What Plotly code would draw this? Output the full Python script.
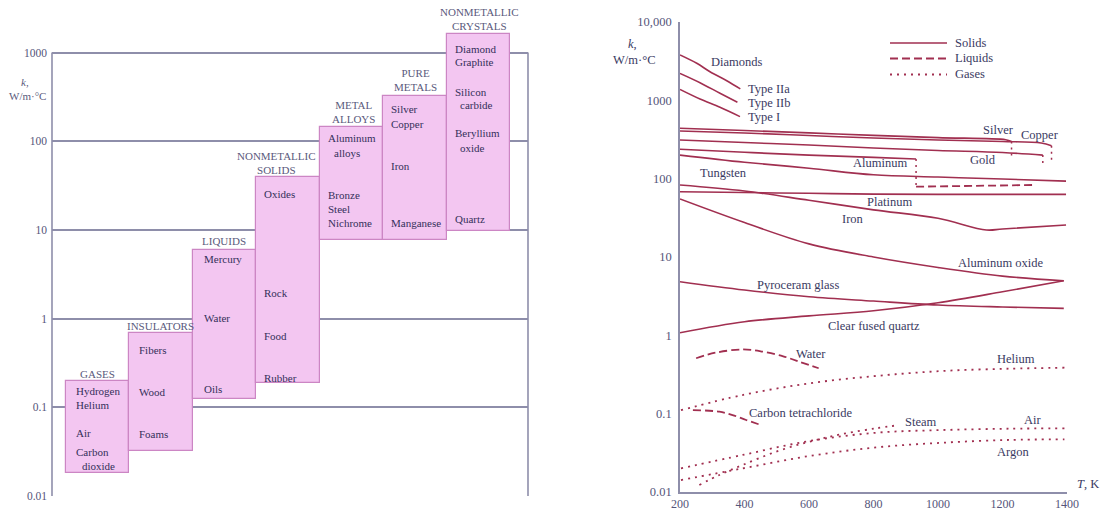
import plotly.graph_objects as go

# ---------------- Left chart: ranges of thermal conductivity ----------------
groups = ["GASES", "INSULATORS", "LIQUIDS", "NONMETALLIC<br>SOLIDS",
          "METAL<br>ALLOYS", "PURE<br>METALS", "NONMETALLIC<br>CRYSTALS"]
k_low = [0.018, 0.032, 0.123, 0.186, 7.7, 7.7, 9.8]
k_high = [0.2, 0.68, 6.0, 39, 143, 323, 1600]
left_ticks = [0.01, 0.1, 1, 10, 100, 1000]
left_ticktext = ["0.01", "0.1", "1", "10", "100", "1000"]

box_items = [
    ["Hydrogen", "Helium", "Air", "Carbon", "dioxide"],
    ["Fibers", "Wood", "Foams"],
    ["Mercury", "Water", "Oils"],
    ["Oxides", "Rock", "Food", "Rubber"],
    ["Aluminum", "alloys", "Bronze", "Steel", "Nichrome"],
    ["Silver", "Copper", "Iron", "Manganese"],
    ["Diamond", "Graphite", "Silicon", "carbide", "Beryllium", "oxide", "Quartz"],
]

# ---------------- Right chart: k vs temperature ----------------
diamond2a_T = [200, 252, 293, 345, 387]
diamond2a_k = [3800, 2970, 2320, 1780, 1400]
diamond2b_T = [200, 262, 324, 378]
diamond2b_k = [2210, 1680, 1230, 945]
diamond1_T = [200, 262, 324, 386]
diamond1_k = [1380, 1040, 815, 620]
silver_T = [200, 400, 600, 800, 1000, 1210, 1228]
silver_k = [440, 412, 384, 357, 334, 314, 298]
copper_T = [200, 400, 600, 800, 1000, 1200, 1320, 1352]
copper_k = [406, 383, 356, 330, 312, 298, 285, 264]
gold_T = [200, 400, 600, 800, 1000, 1200, 1325]
gold_k = [312, 289, 269, 246, 229, 216, 200]
aluminum_T = [200, 400, 600, 800, 932]
aluminum_k = [237, 217, 200, 187, 178]
tungsten_T = [200, 400, 600, 800, 1000, 1200, 1397]
tungsten_k = [200, 162, 136, 112, 105, 99, 93]
platinum_T = [200, 400, 600, 800, 1000, 1200, 1397]
platinum_k = [68, 66.5, 65, 63.5, 63, 63, 63]
iron_T = [200, 400, 600, 800, 1000, 1150, 1200, 1397]
iron_k = [83, 69.6, 53, 40, 31.2, 22.1, 22.8, 25.6]
al2o3_T = [200, 400, 600, 800, 1000, 1200, 1390]
al2o3_k = [55, 27.5, 14.7, 10, 7.35, 5.7, 4.98]
pyroceram_T = [200, 400, 600, 800, 1000, 1200, 1390]
pyroceram_k = [4.84, 3.79, 3.11, 2.74, 2.44, 2.30, 2.21]
quartz_T = [200, 400, 600, 800, 1000, 1200, 1390]
quartz_k = [1.08, 1.49, 1.77, 2.06, 2.61, 3.6, 4.98]

water_T = [250, 310, 395, 455, 520, 570, 630]
water_k = [0.51, 0.60, 0.66, 0.62, 0.54, 0.46, 0.38]
ccl4_T = [240, 322, 363, 405, 451]
ccl4_k = [0.111, 0.106, 0.096, 0.083, 0.0716]
liquid_al_T = [932, 1294]
liquid_al_k = [79, 83]

helium_T = [203, 394, 601, 808, 1015, 1221, 1392]
helium_k = [0.111, 0.173, 0.244, 0.303, 0.351, 0.375, 0.386]
air_T = [203, 394, 601, 808, 1015, 1221, 1392]
air_k = [0.020, 0.0297, 0.0448, 0.0571, 0.0618, 0.0643, 0.065]
argon_T = [203, 394, 601, 808, 1015, 1221, 1392]
argon_k = [0.0142, 0.0200, 0.0288, 0.0371, 0.0426, 0.0462, 0.047]
steam_T = [260, 322, 394, 498, 601, 704, 808, 880]
steam_k = [0.0123, 0.0165, 0.0221, 0.0327, 0.0439, 0.055, 0.065, 0.0716]

# melting transitions (solid -> liquid), drawn dotted
melt_T = [[932, 932], [1228, 1228], [1352, 1352], [1325, 1325]]
melt_k = [[178, 79], [298, 182], [264, 173], [200, 149]]

right_ticks = [0.01, 0.1, 1, 10, 100, 1000, 10000]
right_ticktext = ["0.01", "0.1", "1", "10", "100", "1000", "10,000"]
x_ticks = [200, 400, 600, 800, 1000, 1200, 1400]
legend_names = ["Solids", "Liquids", "Gases"]

# ---------------- styling ----------------
FW, FH = 1104, 514
SERIF = "Liberation Serif"
LINE = "#a12f50"
TXT = "#3a3a62"
TICK = "#55557a"
GRID = "#8e8eaa"
BOX_FILL = "#f3c6f1"
BOX_EDGE = "#cc86c4"
SOLID = dict(color=LINE, width=1.6)
LIQUID = dict(color=LINE, width=1.8, dash="8px,4px")
GAS = dict(color=LINE, width=1.8, dash="2px,5px")


def PX(x):
    return x / FW


def PY(y):
    return 1 - y / FH


fig = go.Figure()

heights = [h - l for h, l in zip(k_high, k_low)]
fig.add_trace(go.Bar(
    x=list(range(len(groups))), y=heights, base=k_low, width=1,
    marker=dict(color=BOX_FILL, line=dict(color=BOX_EDGE, width=1.2)),
    xaxis="x", yaxis="y", showlegend=False, hoverinfo="skip"))

solid_series = [
    (diamond2a_T, diamond2a_k), (diamond2b_T, diamond2b_k), (diamond1_T, diamond1_k),
    (silver_T, silver_k), (copper_T, copper_k), (gold_T, gold_k),
    (aluminum_T, aluminum_k), (tungsten_T, tungsten_k), (platinum_T, platinum_k),
    (iron_T, iron_k), (al2o3_T, al2o3_k), (pyroceram_T, pyroceram_k),
    (quartz_T, quartz_k),
]
liquid_series = [(water_T, water_k), (ccl4_T, ccl4_k), (liquid_al_T, liquid_al_k)]
gas_series = [(helium_T, helium_k), (air_T, air_k), (argon_T, argon_k), (steam_T, steam_k)]

for series, style in ((solid_series, SOLID), (liquid_series, LIQUID), (gas_series, GAS)):
    for t, k in series:
        fig.add_trace(go.Scatter(x=t, y=k, mode="lines", line=style, xaxis="x2",
                                 yaxis="y2", showlegend=False, line_shape="spline"))
for t, k in zip(melt_T, melt_k):
    fig.add_trace(go.Scatter(x=t, y=k, mode="lines",
                             line=dict(color=LINE, width=1.5, dash="2px,4px"),
                             xaxis="x2", yaxis="y2", showlegend=False))

ann = []


def text(s, x, y, size=12.5, color=TXT, xanchor="center"):
    ann.append(dict(text=s, x=PX(x), y=PY(y), xref="paper", yref="paper",
                    showarrow=False, xanchor=xanchor, yanchor="middle",
                    font=dict(family=SERIF, size=size, color=color)))


group_pos = [(97, 374), (160, 326), (224, 241), (276, 163), (353, 112), (415, 80), (479, 19)]
for g, (x, y) in zip(groups, group_pos):
    text(g, x, y, size=11, color="#5a5a7c")

item_pos = [
    [(74, 391), (74, 405), (74, 433), (74, 452), (80, 466)],
    [(137, 350), (137, 392), (137, 434)],
    [(202, 259), (202, 318), (202, 389)],
    [(262, 194), (262, 293), (262, 336), (262, 378)],
    [(326, 138), (332, 153), (326, 195), (326, 209), (326, 223)],
    [(389, 109), (389, 124), (389, 166), (389, 223)],
    [(453, 49), (453, 62), (453, 92), (458, 105), (453, 133), (458, 148), (453, 219)],
]
for items, poss in zip(box_items, item_pos):
    for s, (x, y) in zip(items, poss):
        text(s, x, y, size=11, color="#34305a", xanchor="left")

text("<i>k</i>,", 25, 82, size=11, color="#5a5a7c")
text("W/m·°C", 27, 96, size=11, color="#5a5a7c")

right_labels = [
    ("Diamonds", 737, 62, "center"), ("Type IIa", 746, 89, "left"),
    ("Type IIb", 746, 103.5, "left"), ("Type I", 746, 117, "left"),
    ("Tungsten", 723, 173, "center"), ("Aluminum", 880, 163, "center"),
    ("Silver", 998, 130, "center"), ("Copper", 1040, 135, "center"),
    ("Gold", 983, 160, "center"), ("Platinum", 889, 202, "center"),
    ("Iron", 853, 219, "center"), ("Aluminum oxide", 1001, 263, "center"),
    ("Pyroceram glass", 798, 285, "center"), ("Clear fused quartz", 874, 326, "center"),
    ("Water", 811, 354, "center"), ("Helium", 1016, 359, "center"),
    ("Carbon tetrachloride", 801, 413, "center"), ("Steam", 921, 422, "center"),
    ("Air", 1033, 420, "center"), ("Argon", 1013, 452, "center"),
]
for s, x, y, a in right_labels:
    text(s, x, y, size=12.5, xanchor=a)
text("<i>T</i>, K", 1088, 484, size=12.5)
text("<i>k</i>,", 632, 44, size=12.5)
text("W/m·°C", 634, 60, size=12.5)

shapes = [
    dict(type="line", xref="x domain", yref="y", x0=0, x1=0, y0=0.01, y1=1000,
         line=dict(color=GRID, width=1.6)),
    dict(type="line", xref="x domain", yref="y", x0=1, x1=1, y0=0.01, y1=1000,
         line=dict(color=GRID, width=1.6)),
]

for name, style, ly in zip(legend_names, (SOLID, LIQUID, GAS), (43, 58.5, 74.5)):
    shapes.append(dict(type="line", xref="paper", yref="paper",
                       x0=PX(890), x1=PX(947), y0=PY(ly), y1=PY(ly), line=style))
    text(name, 953, ly - 0.5, size=12.5, xanchor="left")

fig.update_layout(
    width=FW, height=FH, autosize=False, margin=dict(l=0, r=0, t=0, b=0, pad=0),
    paper_bgcolor="white", plot_bgcolor="rgba(0,0,0,0)",
    barmode="overlay", bargap=0, showlegend=False,
    xaxis=dict(domain=[PX(52), PX(528)], range=[-0.72, 6.78], showgrid=False,
               zeroline=False, showticklabels=False, showline=False, ticks="",
               automargin=False),
    yaxis=dict(domain=[PY(496), PY(30)], type="log", range=[-2, 3.2537],
               tickmode="array", tickvals=left_ticks, ticktext=left_ticktext,
               showgrid=True, gridcolor=GRID, gridwidth=1.6, zeroline=False,
               showline=False, ticks="", ticklabelstandoff=4, automargin=False,
               tickfont=dict(family=SERIF, size=11.5, color=TICK)),
    xaxis2=dict(domain=[PX(680), PX(1067)], range=[200, 1400], anchor="y2",
                tickmode="array", tickvals=x_ticks, showgrid=False, zeroline=False,
                showline=True, linecolor=GRID, linewidth=1.6, ticks="", automargin=False,
                tickfont=dict(family=SERIF, size=12, color=TICK)),
    yaxis2=dict(domain=[PY(492), PY(22)], type="log", range=[-2, 4], anchor="x2",
                tickmode="array", tickvals=right_ticks, ticktext=right_ticktext,
                showgrid=False, zeroline=False, showline=True, linecolor=GRID,
                linewidth=1.6, ticks="", ticklabelstandoff=4, automargin=False,
                tickfont=dict(family=SERIF, size=12.5, color=TICK)),
    annotations=ann, shapes=shapes,
)

page_fix = "document.body.style.margin='0px';document.body.style.overflow='hidden';"
fig.write_html("out.html", config={"displayModeBar": False, "responsive": False},
               post_script=page_fix)
